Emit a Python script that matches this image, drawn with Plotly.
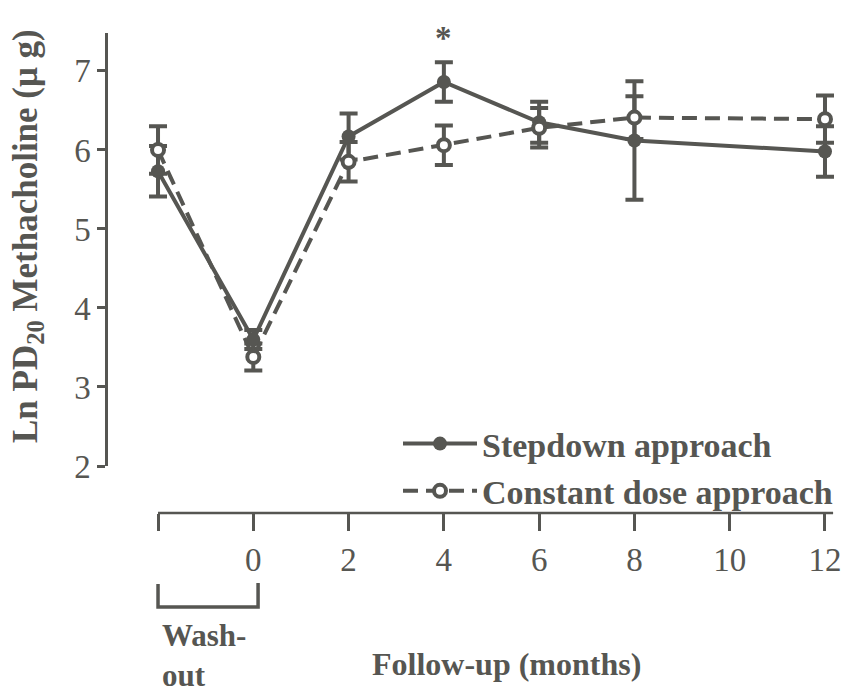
import plotly.graph_objects as go

# Data
months = [-2, 0, 2, 4, 6, 8, 12]
stepdown = [5.73, 3.60, 6.17, 6.86, 6.35, 6.12, 5.98]
stepdown_err = [0.32, 0.12, 0.29, 0.25, 0.26, 0.75, 0.32]
constant = [6.00, 3.38, 5.85, 6.06, 6.28, 6.41, 6.39]
constant_err = [0.30, 0.17, 0.25, 0.25, 0.25, 0.27, 0.30]
tick_vals = [-2, 0, 2, 4, 6, 8, 10, 12]
tick_text = ["", "0", "2", "4", "6", "8", "10", "12"]
y_ticks = [2, 3, 4, 5, 6, 7]

C = "#565652"
SERIF = "Liberation Serif, Times New Roman, serif"

fig = go.Figure()
fig.add_trace(go.Scatter(
    x=months, y=stepdown, name="Stepdown approach", mode="lines+markers",
    line=dict(color=C, width=4),
    marker=dict(color=C, size=14, symbol="circle"),
    error_y=dict(type="data", array=stepdown_err, color=C, thickness=4, width=9),
))
fig.add_trace(go.Scatter(
    x=months, y=constant, name="Constant dose approach", mode="lines+markers",
    line=dict(color=C, width=4, dash="15px,8px"),
    marker=dict(color="white", size=12, symbol="circle", line=dict(color=C, width=4)),
    error_y=dict(type="data", array=constant_err, color=C, thickness=4, width=9),
))

L, R, T, B = 108, 19, 33, 183
W, H = 864, 696
pw = W - L - R
ph = H - T - B
def px_x(p):
    return (p - L) / pw
def px_y(p):
    return (H - B - p) / ph

fig.update_layout(
    width=W, height=H,
    margin=dict(l=L, r=R, t=T, b=B, pad=0),
    plot_bgcolor="white", paper_bgcolor="white",
    font=dict(family=SERIF, color=C),
    showlegend=True,
    legend=dict(
        x=px_x(398), y=px_y(415), xanchor="left", yanchor="top",
        font=dict(size=34, family=SERIF, color=C, weight="bold"),
        bgcolor="rgba(0,0,0,0)", tracegroupgap=0, itemwidth=74,
    ),
    xaxis=dict(
        range=[-3.05, 12.42], anchor="free", position=0,
        showline=False, showgrid=False, zeroline=False,
        tickvals=tick_vals, ticktext=tick_text,
        ticks="outside", ticklen=17, tickwidth=2.5, tickcolor=C,
        tickfont=dict(size=33, family=SERIF, color=C),
    ),
    yaxis=dict(
        range=[2, 7.48], domain=[px_y(466), 1],
        showline=True, linecolor=C, linewidth=2.5,
        showgrid=False, zeroline=False,
        tickvals=y_ticks, ticks="outside", ticklen=8, tickwidth=2.5, tickcolor=C,
        tickfont=dict(size=33, family=SERIF, color=C),
    ),
    shapes=[
        # x-axis baseline
        dict(type="line", xref="x", yref="paper", x0=-2, x1=12.17, y0=0, y1=0,
             line=dict(color=C, width=2.5)),
        # wash-out bracket
        dict(type="path", xref="x", yref="paper",
             path=f"M -2,{px_y(584)} L -2,{px_y(607)} L 0.1,{px_y(607)} L 0.1,{px_y(583)}",
             line=dict(color=C, width=3.5)),
    ],
    annotations=[
        dict(text="*", x=4, y=7.42, xref="x", yref="y", showarrow=False,
             font=dict(size=33, family=SERIF, color=C, weight="bold")),
        dict(text="Ln PD<sub>20</sub> Methacholine (\u03bc g)", textangle=-90,
             x=px_x(27), y=px_y(236), xref="paper", yref="paper", showarrow=False,
             xanchor="center", yanchor="middle",
             font=dict(size=35, family=SERIF, color=C, weight="bold")),
        dict(text="Wash-<br>out", x=px_x(160), y=px_y(695), xref="paper", yref="paper",
             xanchor="left", yanchor="bottom", align="left", showarrow=False,
             font=dict(size=31, family=SERIF, color=C, weight="bold")),
        dict(text="Follow-up (months)", x=px_x(506), y=px_y(664), xref="paper", yref="paper",
             xanchor="center", yanchor="middle", showarrow=False,
             font=dict(size=32, family=SERIF, color=C, weight="bold")),
    ],
)

fig.write_html("out.html")
